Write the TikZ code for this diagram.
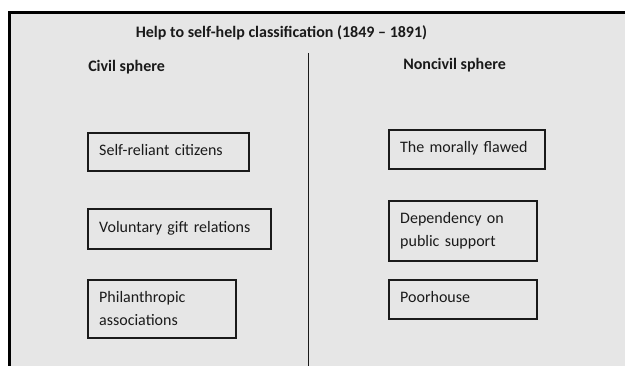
\documentclass[tikz,border=0pt]{standalone}
\usepackage{fontspec}
\setmainfont{Carlito}
\definecolor{bg}{HTML}{E6E6E6}
\definecolor{ink}{HTML}{1A1A1A}
\begin{document}
\begin{tikzpicture}[x=0.75pt,y=-0.75pt,
  catbox/.style={draw=ink, line width=1.8pt, fill=bg, anchor=north west, align=left,
    inner xsep=8.25pt, inner ysep=0pt, font=\fontsize{12}{17.25}\selectfont, text=ink},
  oneline/.style={text height=9pt, text depth=4pt},
  head/.style={font=\bfseries\fontsize{12}{14}\selectfont, text=ink, inner sep=0pt},
  frameline/.style={line width=2.2pt, draw=black, fill=bg},
  divider/.style={line width=1.1pt, draw=ink}]
\useasboundingbox (0,0) rectangle (625,366);
\begin{scope}
  \clip (0,0) rectangle (625,366);
  \draw[frameline] (9.8,12.5) rectangle (640,380);
\end{scope}
\node[head] (title) at (281.5,32.5) {Help to self-help classification (1849 – 1891)};
\node[head, anchor=west] (civil) at (88,67.5) {Civil sphere};
\node[head, anchor=west] (noncivil) at (403,65.5) {Noncivil sphere};
\coordinate (dtop) at (308.5,53);
\coordinate (dbot) at (308.5,366);
\draw[divider] (dtop) -- (dbot);
% civil column
\node[catbox, oneline, text width=103.95pt, minimum height=28.2pt] (selfreliant) at (87,132) {Self-reliant citizens};
\node[catbox, oneline, text width=120.45pt, minimum height=29.7pt] (voluntary) at (87,208) {Voluntary gift relations};
\node[catbox, text width=94.2pt, minimum height=43.2pt] (philanthropic) at (87,279) {Philanthropic\\associations};
% noncivil column
\node[catbox, oneline, text width=100.2pt, minimum height=28.95pt] (flawed) at (388,129) {The morally flawed};
\node[catbox, text width=94.2pt, minimum height=44.7pt] (dependency) at (388,200) {Dependency on\\public support};
\node[catbox, oneline, text width=94.2pt, minimum height=28.95pt] (poorhouse) at (388,279) {Poorhouse};
\end{tikzpicture}
\end{document}
